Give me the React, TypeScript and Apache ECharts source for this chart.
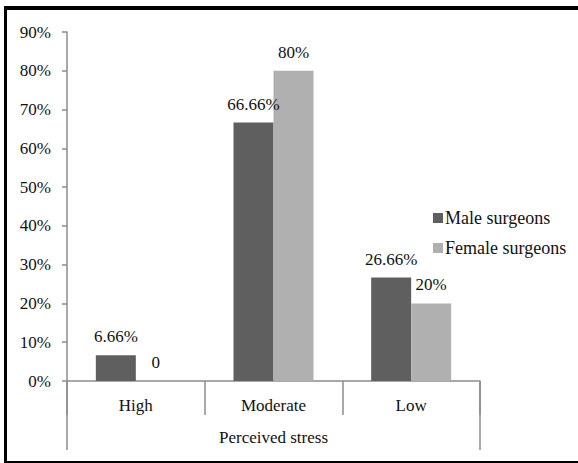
import React, { useEffect, useRef } from "react";
import * as echarts from "echarts";

const categories = ["High", "Moderate", "Low"];
const maleValues = [6.66, 66.66, 26.66];
const femaleValues = [0, 80, 20];
const maleLabels = ["6.66%", "66.66%", "26.66%"];
const femaleLabels = ["0", "80%", "20%"];
const seriesNames = ["Male surgeons", "Female surgeons"];
const axisTitle = "Perceived stress";

const FONT = "Times New Roman, Liberation Serif, DejaVu Serif, serif";
const FS = 17;

export default function App() {
  const ref = useRef<HTMLDivElement>(null);
  useEffect(() => {
    document.body.style.margin = "0";
    const chart = echarts.init(ref.current!, null, { renderer: "svg" });
    const gridLeft = 67;
    const gridRight = 480;
    const gridTop = 32;
    const gridBottom = 381;
    const axisColor = "#8c8c8c";
    const txt = { fontFamily: FONT, fontSize: FS, color: "#111" };
    chart.setOption({
      animation: false,
      backgroundColor: "#ffffff",
      textStyle: { fontFamily: FONT },
      grid: {
        left: gridLeft,
        top: gridTop,
        width: gridRight - gridLeft,
        height: gridBottom - gridTop,
        containLabel: false,
      },
      legend: {
        orient: "vertical",
        left: 428,
        top: 204,
        itemWidth: 10,
        itemHeight: 10,
        itemGap: 12,
        icon: "rect",
        textStyle: { ...txt, fontSize: 18, padding: [0, 0, 0, -3] },
        data: seriesNames,
      },
      xAxis: {
        type: "category",
        data: categories,
        boundaryGap: true,
        axisLine: { lineStyle: { color: axisColor, width: 1.5 } },
        axisTick: { show: true, length: 34, alignWithLabel: false, lineStyle: { color: axisColor, width: 1.5 } },
        axisLabel: { ...txt, margin: 16 },
        name: axisTitle,
        nameLocation: "middle",
        nameGap: 48,
        nameTextStyle: { ...txt },
      },
      yAxis: {
        type: "value",
        min: 0,
        max: 90,
        interval: 10,
        splitLine: { show: false },
        axisLine: { show: true, lineStyle: { color: axisColor, width: 1.5 } },
        axisTick: { show: true, length: 5, lineStyle: { color: axisColor, width: 1.5 } },
        axisLabel: {
          ...txt,
          margin: 16,
          formatter: (v: number) => `${v}%`,
        },
      },
      series: [
        {
          name: seriesNames[0],
          type: "bar",
          data: maleValues,
          barWidth: 40,
          barGap: "0%",
          itemStyle: { color: "#5f5f5f" },
          label: {
            show: true,
            position: "top",
            distance: 10,
            ...txt,
            formatter: (p: any) => maleLabels[p.dataIndex],
          },
        },
        {
          name: seriesNames[1],
          type: "bar",
          data: femaleValues,
          barWidth: 40,
          barGap: "0%",
          itemStyle: { color: "#b0b0b0" },
          label: {
            show: true,
            position: "top",
            distance: 10,
            ...txt,
            formatter: (p: any) => femaleLabels[p.dataIndex],
          },
        },
      ],
      graphic: [
        { type: "line", shape: { x1: gridLeft, y1: gridBottom, x2: gridLeft, y2: 450 }, style: { stroke: axisColor, lineWidth: 1.5 } },
        { type: "line", shape: { x1: gridRight, y1: gridBottom, x2: gridRight, y2: 450 }, style: { stroke: axisColor, lineWidth: 1.5 } },
        { type: "rect", shape: { x: 5, y: 6, width: 573, height: 4 }, style: { fill: "#000" } },
        { type: "rect", shape: { x: 4, y: 6, width: 3, height: 457 }, style: { fill: "#000" } },
        { type: "rect", shape: { x: 4, y: 461, width: 574, height: 2 }, style: { fill: "#000" } },
      ],
    });
    return () => chart.dispose();
  }, []);
  return <div ref={ref} style={{ width: 578, height: 463 }} />;
}
